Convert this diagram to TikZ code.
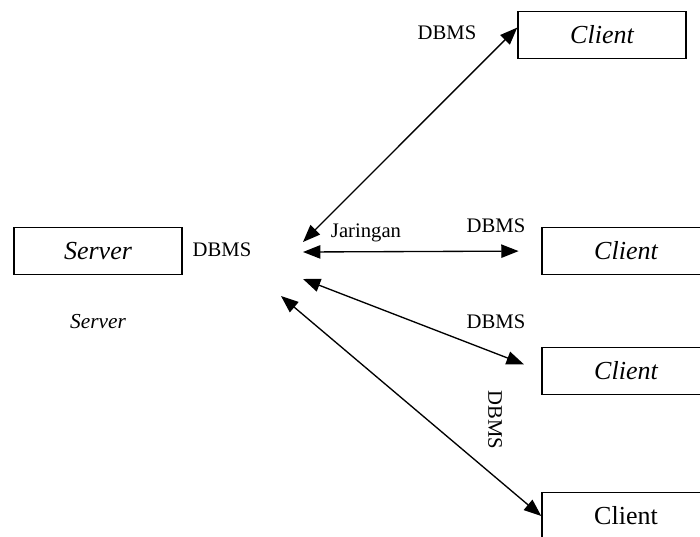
\documentclass[tikz,border=0pt]{standalone}
\usepackage{fontspec}
\setmainfont{Liberation Serif}
\usetikzlibrary{arrows.meta}

\begin{document}
\begin{tikzpicture}[x=0.75pt,y=-0.75pt,
  box/.style={draw,line width=1.1pt,minimum width=126pt,minimum height=35pt,inner sep=0pt,font=\fontsize{19.5}{22}\selectfont},
  lbl/.style={inner sep=0pt,font=\fontsize{15.5}{18}\selectfont},
  link/.style={line width=1pt,{Triangle[length=13pt,width=10pt]}-{Triangle[length=13pt,width=10pt]}}]
\useasboundingbox (0,0) rectangle (700,536);
\node[box] (server) at (98,251) {\itshape Server};
\node[box] (client1) at (602,35) {\itshape Client};
\node[box] (client2) at (626,251) {\itshape Client};
\node[box] (client3) at (626,371) {\itshape Client};
\node[box] (client4) at (626,516) {Client};
\coordinate (net1) at (303,242);
\coordinate (net2) at (303,252);
\coordinate (net3) at (303,279);
\coordinate (net4) at (281,296);
\draw[link] (net1) -- (client1.175);
\draw[link,shorten >=17pt] (net2) -- (client2.west);
\draw[link,shorten >=14pt] (net3) -- (client3.west);
\draw[link] (net4) -- (client4.west);
\node[lbl] (dbms0) at (222,250) {DBMS};
\node[lbl] (dbms1) at (447,33) {DBMS};
\node[lbl] (jaringan) at (366,233) {Jaringan};
\node[lbl] (dbms2) at (496,226) {DBMS};
\node[lbl] (dbms3) at (496,322) {DBMS};
\node[lbl,rotate=-90] (dbms4) at (495,420) {DBMS};
\node[lbl,font=\fontsize{16}{18}\selectfont\itshape] (srvname) at (98,322) {Server};
\end{tikzpicture}
\end{document}
